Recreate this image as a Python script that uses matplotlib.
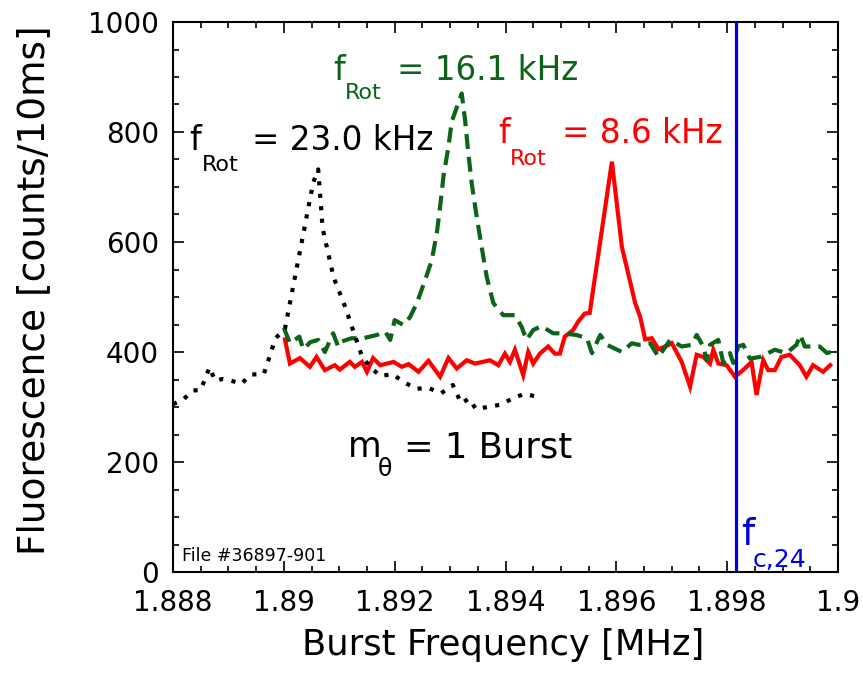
import matplotlib
matplotlib.use("Agg")
import matplotlib.pyplot as plt
from matplotlib.ticker import MultipleLocator

W, H = 863, 675

# ---------------- data ----------------
black_x = [1.88800, 1.88820, 1.88836, 1.88850, 1.88866, 1.88876, 1.88890, 1.88908,
           1.88923, 1.88941, 1.88964, 1.88985, 1.89002, 1.89053, 1.89062, 1.89070,
           1.89090, 1.89110, 1.89140, 1.89155, 1.89175, 1.89195, 1.89219, 1.89239,
           1.89260, 1.89284, 1.89305, 1.89320, 1.89334, 1.89347, 1.89367, 1.89390,
           1.89414, 1.89434, 1.89460]
black_y = [305, 315, 330, 331, 372, 348, 351, 347,
           342, 359, 360, 425, 442, 708, 732, 625,
           535, 484, 395, 373, 356, 360, 344, 333,
           335, 325, 340, 307, 315, 296, 300, 304,
           316, 324, 318]

green_x = [1.89000, 1.89011, 1.89028, 1.89035, 1.89048, 1.89062, 1.89074, 1.89089,
           1.89098, 1.89104, 1.89122, 1.89143, 1.89168, 1.89183, 1.89192, 1.89200,
           1.89216, 1.89228, 1.89240, 1.89255, 1.89267, 1.89276, 1.89282, 1.89288,
           1.89297, 1.89303, 1.89321, 1.89327, 1.89333, 1.89339, 1.89348, 1.89357,
           1.89366, 1.89378, 1.89396, 1.89417, 1.89429, 1.89438, 1.89450, 1.89465,
           1.89486, 1.89501, 1.89528, 1.89547, 1.89556, 1.89571, 1.89583, 1.89610,
           1.89628, 1.89640, 1.89661, 1.89676, 1.89697, 1.89718, 1.89736, 1.89745,
           1.89757, 1.89763, 1.89769, 1.89784, 1.89793, 1.89805, 1.89811, 1.89820,
           1.89829, 1.89841, 1.89859, 1.89886, 1.89907, 1.89925, 1.89932, 1.89940,
           1.89967, 1.89980, 1.90000]
green_y = [444, 416, 428, 405, 418, 422, 400, 434,
           410, 419, 425, 425, 431, 437, 422, 458,
           449, 464, 489, 531, 567, 616, 664, 719,
           773, 819, 870, 822, 761, 707, 646, 591,
           537, 489, 467, 467, 446, 422, 440, 447,
           434, 434, 431, 425, 398, 431, 413, 400,
           416, 413, 416, 391, 422, 410, 413, 431,
           410, 385, 413, 422, 380, 398, 380, 410,
           413, 388, 391, 404, 398, 413, 431, 410,
           410, 398, 404]

red_x = [1.89002, 1.89011, 1.89029, 1.89047, 1.89059, 1.89074, 1.89092, 1.89101,
         1.89119, 1.89128, 1.89141, 1.89150, 1.89161, 1.89174, 1.89198, 1.89213,
         1.89225, 1.89243, 1.89261, 1.89282, 1.89297, 1.89312, 1.89330, 1.89345,
         1.89372, 1.89387, 1.89399, 1.89408, 1.89417, 1.89432, 1.89441, 1.89450,
         1.89462, 1.89477, 1.89489, 1.89498, 1.89507, 1.89522, 1.89531, 1.89543,
         1.89552, 1.89592, 1.89610, 1.89634, 1.89643, 1.89652, 1.89664, 1.89676,
         1.89688, 1.89700, 1.89718, 1.89733, 1.89745, 1.89757, 1.89769, 1.89775,
         1.89784, 1.89799, 1.89814, 1.89832, 1.89844, 1.89853, 1.89865, 1.89874,
         1.89886, 1.89898, 1.89913, 1.89931, 1.89943, 1.89955, 1.89973, 1.89986]
red_y = [423, 379, 389, 373, 391, 367, 376, 368,
         382, 373, 382, 364, 389, 376, 382, 373,
         378, 364, 384, 355, 389, 370, 385, 379,
         385, 376, 397, 382, 404, 358, 400, 379,
         397, 410, 397, 397, 428, 440, 455, 470,
         471, 746, 591, 489, 464, 423, 425, 405,
         410, 416, 382, 337, 395, 391, 379, 404,
         379, 376, 355, 370, 382, 322, 385, 367,
         367, 391, 395, 376, 355, 376, 364, 376]

f_cutoff = 1.89816

x_ticks = [1.888, 1.890, 1.892, 1.894, 1.896, 1.898, 1.900]
x_tick_labels = ["1.888", "1.89", "1.892", "1.894", "1.896", "1.898", "1.9"]
y_ticks = [0, 200, 400, 600, 800, 1000]

# ---------------- figure ----------------
plt.rcParams['font.family'] = ['DejaVu Sans']
fig = plt.figure(figsize=(W / 100, H / 100), dpi=100)
ax = fig.add_axes([173 / W, 1 - 572 / H, 665 / W, 550 / H])

GREEN = "#0b6418"
RED = "#ff0000"
BLUE = "#0000dd"

ax.plot(red_x, red_y, color=RED, lw=3.0, solid_joinstyle="miter", zorder=3)
ax.plot(green_x, green_y, color=GREEN, lw=3.0, linestyle=(0, (3.6, 1.9)),
        dash_capstyle="butt", zorder=4)
ax.plot(black_x, black_y, color="black", lw=3.0, linestyle=(0, (1.0, 2.0)),
        dash_capstyle="butt", zorder=5)
ax.axvline(f_cutoff, color=BLUE, lw=2.3, zorder=6)

ax.set_xlim(1.888, 1.900)
ax.set_ylim(0, 1000)
ax.set_xticks(x_ticks)
ax.set_xticklabels(x_tick_labels)
ax.set_yticks(y_ticks)
ax.xaxis.set_minor_locator(MultipleLocator(0.0005))
ax.yaxis.set_minor_locator(MultipleLocator(50))

ax.tick_params(which="both", direction="in", top=True, right=True, width=1.2)
ax.tick_params(which="major", length=8)
ax.tick_params(which="minor", length=4.5)
ax.tick_params(axis="x", which="major", labelsize=20, pad=12)
ax.tick_params(axis="y", which="major", labelsize=20, pad=10)
for s in ax.spines.values():
    s.set_linewidth(1.5)

ax.set_xlabel("Burst Frequency [MHz]", fontsize=25.5)
ax.xaxis.set_label_coords(0.497, -0.102)
ax.set_ylabel("Fluorescence [counts/10ms]", fontsize=27)
ax.yaxis.set_label_coords(-0.182, 0.513)


def ptext(x, y, s, size, color="black"):
    fig.text(x / W, 1 - y / H, s, fontsize=size, color=color,
             ha="left", va="baseline")


# black annotation
ptext(189, 150, "f", 24)
ptext(202, 171, "Rot", 16)
ptext(252, 150, "= 23.0 kHz", 23.5)
# green annotation
ptext(333, 80, "f", 24, GREEN)
ptext(345, 99, "Rot", 16, GREEN)
ptext(397, 80, "= 16.1 kHz", 23.5, GREEN)
# red annotation
ptext(498, 143, "f", 24, RED)
ptext(510, 165, "Rot", 16, RED)
ptext(562, 143, "= 8.6 kHz", 23.5, RED)
# m_theta
ptext(348, 457, "m", 25)
ptext(378, 476, "θ", 17)
ptext(404, 457, "= 1 Burst", 25.5)
# cutoff label
ptext(741, 545, "f", 27, BLUE)
ptext(753, 567, "c,24", 18, BLUE)
# file label
ptext(182, 561, "File #36897-901", 12.5)

fig.savefig("out.png", dpi=100)
